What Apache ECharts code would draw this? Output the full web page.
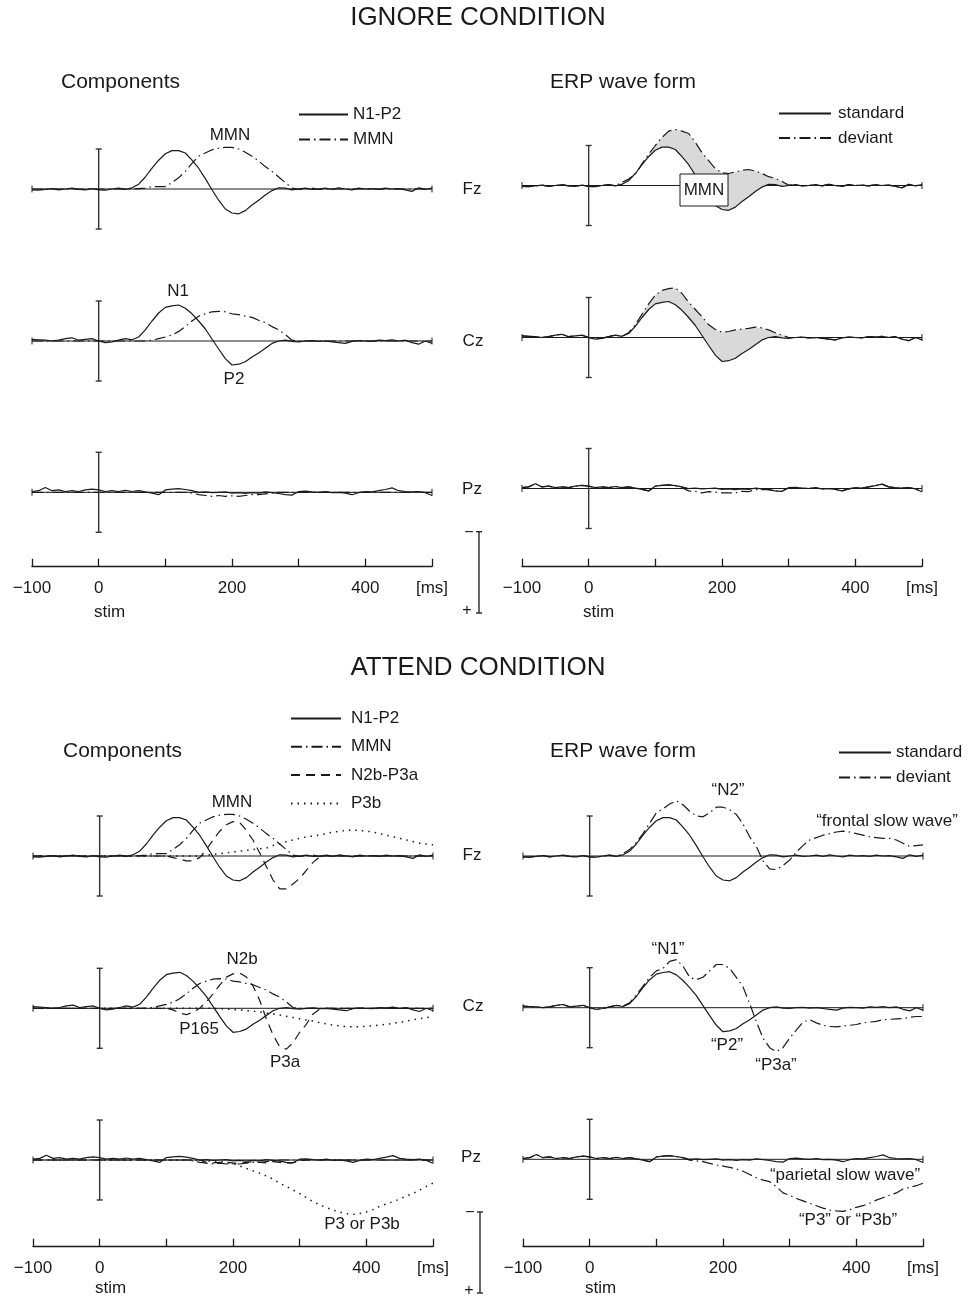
<!DOCTYPE html>
<html><head><meta charset="utf-8">
<script src="https://cdn.jsdelivr.net/npm/echarts@6/dist/echarts.min.js"></script>
<style>html,body{margin:0;padding:0;background:#fff}#chart{width:969px;height:1297px}</style>
</head><body><div id="chart"></div>
<script>
// ---------------- DATA (µV, negative = up; time in ms) ----------------
const TIME_MS = [-100,-90,-80,-70,-60,-50,-40,-30,-20,-10,0,10,20,30,40,50,60,70,80,90,100,110,120,130,140,150,160,170,180,190,200,210,220,230,240,250,260,270,280,290,300,310,320,330,340,350,360,370,380,390,400,410,420,430,440,450,460,470,480,490,500];
const TICK_VALUES = [-100,0,100,200,300,400,500];
const TICK_LABELS = ['\u2212100','0','','200','','400','[ms]'];
const BASELINE_MS = [-100, 500];
const SCALE_BAR_UV = [-5, 5];

// Fz
const FZ_N1P2 = [0.1,0.15,0.05,-0.05,0.1,0.0,-0.1,0.05,0.1,-0.05, 0.1,0.15,0.0,-0.1,0.05,
 -0.15,-0.6,-1.5,-2.6,-3.6,-4.4,-4.8,-4.8,-4.5,-3.6,-2.6,-1.3,0.1,1.4,2.5,3.0,3.1,2.7,2.0,1.4,0.75,0.2,-0.15,-0.1,
 0.1,0.0,-0.1,0.05,0.0,-0.1,0.05,-0.15,0.0,0.1,-0.1,0.0,-0.05,0.05,-0.1,0.0,-0.05,0.1,0.3,-0.15,0.05,-0.1];
const FZ_MMN = [0,0,0,0,0,0,0,0,0,0, 0,0,0,0,0,
 0,-0.05,-0.1,-0.3,-0.3,-0.3,-0.8,-1.4,-2.2,-3.2,-4.1,-4.5,-4.9,-5.1,-5.2,-5.2,-5.0,-4.6,-4.1,-3.5,-2.8,-2.2,-1.5,-0.8,-0.1,0.05,
 0,-0.1,0.05,0,0,0,0,0,0,0, 0,0,0,0,0,0,0,0,0,0];
const FZ_DEVIANT_IGNORE = [0.1,0.15,0.05,-0.05,0.1,0.0,-0.1,0.05,0.1,-0.05, 0.1,0.15,0.0,-0.1,0.05,
 -0.4,-0.8,-1.4,-2.7,-3.9,-5.0,-6.0,-6.8,-7.0,-6.8,-6.5,-5.4,-4.1,-3.1,-2.1,-1.6,-1.5,-1.7,-1.9,-2.0,-1.8,-1.5,-1.1,-0.9,-0.5,-0.05,
 -0.1,0.05,0.0,-0.1,0.05,-0.15,0.0,0.1,-0.1,0.0,-0.05,0.05,-0.1,0.0,-0.05,0.1,0.3,-0.15,0.05,-0.1];
const FZ_N2B_P3A = [0,0,0,0,0,0,0,0,0,0, 0,0,0,0,0,0,0,0,0,0,
 0.0,0.2,0.4,0.6,0.6,0.2,-0.8,-2.0,-3.1,-3.9,-4.3,-4.2,-3.2,-2.0,-0.4,1.3,3.0,4.1,4.1,3.5,2.8,1.8,0.8,0.1,0.0,
 0,0,0,0,0,0,0,0,0,0,0,0,0,0,0,0];
const FZ_P3B = [0,0,0,0,0,0,0,0,0,0, 0,0,0,0,0,0,0,0,0,0, 0,0,0,0,0,
 0.0,-0.1,-0.2,-0.3,-0.4,-0.5,-0.6,-0.7,-0.8,-0.9,-1.0,-1.3,-1.5,-1.8,-2.0,-2.2,-2.4,-2.5,-2.6,-2.8,
 -3.0,-3.1,-3.2,-3.25,-3.2,-3.1,-3.0,-2.8,-2.6,-2.4,-2.2,-2.0,-1.8,-1.6,-1.5,-1.4];
const FZ_DEVIANT_ATTEND = [0.1,0.15,0.05,-0.05,0.1,0.0,-0.1,0.05,0.1,-0.05, 0.1,0.15,0.0,-0.1,0.05,
 -0.3,-0.8,-1.7,-2.8,-4.1,
 -5.4,-5.9,-6.5,-6.9,-6.4,-5.6,-5.0,-4.9,-5.4,-6.1,
 -6.1,-5.8,-5.2,-4.0,-2.4,-1.2,0.6,1.6,1.7,1.2,
 0.5,-0.5,-1.3,-2.0,-2.3,-2.6,-2.8,-3.0,-3.1,-3.0,
 -2.8,-2.6,-2.4,-2.3,-2.2,-2.2,-2.0,-1.6,-1.2,-1.3,
 -1.4];

// Cz
const CZ_N1P2 = [-0.2,-0.15,-0.1,0.0,-0.1,-0.3,-0.4,-0.1,-0.2,-0.3, 0.0,0.2,0.1,-0.1,-0.3,
 -0.15,-0.5,-1.4,-2.5,-3.5,-4.2,-4.4,-4.5,-4.1,-3.4,-2.5,-1.5,-0.25,1.0,2.2,3.0,2.9,2.6,2.0,1.5,0.9,0.3,0.0,-0.1,
 0.05,0.1,0.0,-0.05,0.05,0.0,0.1,0.2,0.3,0.05,-0.05,0.0,0.05,-0.1,-0.05,-0.15,0.0,-0.1,0.2,0.4,0.0,0.3];
const CZ_MMN = [0,0,0,0,0,0,0,0,0,0, 0,0,0,0,0,0,0,0,
 -0.1,-0.3,-0.5,-0.75,-1.2,-1.8,-2.5,-3.1,-3.4,-3.65,-3.7,-3.65,-3.4,-3.3,-3.1,-2.95,-2.6,-2.3,-1.8,-1.4,-0.8,-0.1,0.0,
 0,0,0,0,0,0,0,0,0,0, 0,0,0,0,0,0,0,0,0,0];
const CZ_DEVIANT_IGNORE = [-0.2,-0.15,-0.1,0.0,-0.1,-0.3,-0.4,-0.1,-0.2,-0.3, 0.0,0.2,0.1,-0.1,-0.3,-0.15,
 -0.6,-1.6,-2.9,-4.2,-5.3,-5.9,-6.1,-6.2,-5.5,-4.4,-3.5,-2.6,-1.6,-1.0,-0.65,-0.75,-0.95,-1.05,-1.15,-1.3,-1.2,-0.95,-0.6,-0.3,0.0,
 0.0,-0.05,0.05,0.0,0.1,0.2,0.3,0.05,-0.05,0.0,0.05,-0.1,-0.05,-0.15,0.0,-0.1,0.2,0.4,0.0,0.3];
const CZ_N2B_P3A = [0,0,0,0,0,0,0,0,0,0, 0,0,0,0,0,0,0,0,0,0,
 0.0,0.2,0.6,0.8,0.5,0.0,-0.8,-1.8,-2.9,-3.9,-4.3,-4.4,-3.9,-2.8,-1.0,1.3,3.3,4.8,5.1,4.3,3.0,2.0,0.7,0.1,0.0,
 0,0,0,0,0,0,0,0,0,0,0,0,0,0,0,0];
const CZ_P3B = [0,0,0,0,0,0,0,0,0,0, 0,0,0,0,0,0,0,0,0,0, 0,0,0,0,0,0,0,0,
 0.05,0.1,0.15,0.2,0.3,0.35,0.45,0.6,0.7,0.85,
 1.0,1.15,1.3,1.45,1.6,1.8,1.95,2.1,2.2,2.3,
 2.3,2.3,2.25,2.2,2.1,2.0,1.9,1.75,1.6,1.45,
 1.3,1.15,1.1];
const CZ_DEVIANT_ATTEND = [-0.2,-0.15,-0.1,0.0,-0.1,-0.3,-0.4,-0.1,-0.2,-0.3, 0.0,0.2,0.1,-0.1,-0.3,
 -0.2,-0.6,-1.6,-2.7,-3.8,
 -4.6,-4.9,-5.8,-6.0,-5.2,-3.8,-3.5,-3.8,-4.6,-5.4,
 -5.4,-4.9,-3.8,-2.6,-0.5,1.75,3.8,5.0,5.5,5.0,
 3.8,2.8,1.8,1.5,1.9,2.2,2.35,2.4,2.3,2.2,
 2.1,1.9,1.8,1.7,1.5,1.45,1.4,1.35,1.2,1.1,
 1.1];

// Pz
const PZ_N1P2 = [-0.1,-0.2,-0.6,-0.2,-0.3,-0.1,-0.2,-0.1,-0.3,-0.4,
 -0.3,-0.1,-0.2,-0.1,-0.25,-0.1,-0.2,-0.05,0.1,0.3,
 -0.3,-0.4,-0.45,-0.35,-0.2,0.0,-0.05,0.05,0.0,-0.05,
 0.1,0.05,0.15,0.05,0.1,-0.05,0.05,0.15,0.3,0.35,
 -0.1,-0.15,-0.05,0.0,-0.1,0.05,0.0,0.1,0.3,0.05,
 -0.1,-0.05,-0.2,-0.35,-0.55,-0.2,-0.1,-0.05,-0.1,0.05,0.4];
const PZ_MMN = [0,0,0,0,0,0,0,0,0,0, 0,0,0,0,0,0,0,0,0,0, 0,0,0,0,
 0.1,0.3,0.4,0.5,0.4,0.5,0.45,0.5,0.4,0.3,0.3,0.2,0.1,
 0,0,0,0,0,0,0,0,0,0, 0,0,0,0,0,0,0,0,0,0, 0,0,0,0];
const PZ_DEVIANT_IGNORE = [-0.1,-0.2,-0.6,-0.2,-0.3,-0.1,-0.2,-0.1,-0.3,-0.4,
 -0.3,-0.1,-0.2,-0.1,-0.25,-0.1,-0.2,-0.05,0.1,0.3,
 -0.3,-0.4,-0.45,-0.35,
 -0.1,0.3,0.35,0.55,0.4,0.45,0.55,0.55,0.55,0.35,0.4,0.15,0.15,
 0.15,0.3,0.35,-0.1,-0.15,-0.05,0.0,-0.1,0.05,0.0,0.1,0.3,0.05,-0.1,-0.05,-0.2,-0.35,-0.55,-0.2,-0.1,-0.05,-0.1,0.05,0.4];
const PZ_N2B_P3A = [0,0,0,0,0,0,0,0,0,0, 0,0,0,0,0,0,0,0,0,0, 0,0,0,0,0,0,
 0.3,0.35,0.3,0.25,0.4,0.4,0.3,0.2,0.3,0.35,0.2,0.3,0.4,0.35,0.1,
 0,0,0,0,0,0,0,0,0,0, 0,0,0,0,0,0,0,0,0,0];
const PZ_P3B = [0,0,0,0,0,0,0,0,0,0, 0,0,0,0,0,0,0,0,0,0, 0,0,0,0,0,
 0.05,0.1,0.15,0.2,0.3,0.45,0.75,1.05,1.35,1.65,
 2.0,2.4,2.9,3.3,3.75,4.2,4.7,5.2,5.6,5.95,
 6.25,6.5,6.7,6.8,6.7,6.5,6.2,5.8,5.5,5.2,
 4.9,4.5,4.2,3.75,3.3,2.9];
const PZ_DEVIANT_ATTEND = [-0.1,-0.2,-0.6,-0.2,-0.3,-0.1,-0.2,-0.1,-0.3,-0.4,
 -0.3,-0.1,-0.2,-0.1,-0.25,-0.1,-0.2,-0.05,0.1,0.3,
 -0.3,-0.4,-0.45,-0.35,-0.2,
 0.1,0.2,0.3,0.5,0.7,0.85,1.0,1.2,1.5,1.9,
 2.3,2.6,2.8,3.4,4.2,4.5,4.9,5.2,5.5,5.8,
 6.1,6.35,6.45,6.5,6.3,6.0,5.8,5.5,5.1,4.8,
 4.5,4.2,3.7,3.5,3.3,3.0];

// standard ERP equals the N1-P2 component wave
const FZ_STANDARD = FZ_N1P2, CZ_STANDARD = CZ_N1P2, PZ_STANDARD = PZ_N1P2;

// ---------------- STYLE / LAYOUT ----------------
const FONT = '"Liberation Sans", Arial, Helvetica, sans-serif';
const INK = '#1a1a1a';
const DASH = {solid:'solid', dashdot:[11,4,1.5,4], dashed:[9,6], dotted:[1.5,5]};

const PANELS = [
 {left:32, base:189, waves:[['MMN',FZ_MMN,'dashdot'],['N1-P2',FZ_N1P2,'solid']]},
 {left:32, base:341, waves:[['MMN',CZ_MMN,'dashdot'],['N1-P2',CZ_N1P2,'solid']]},
 {left:32, base:492.3, waves:[['MMN',PZ_MMN,'dashdot'],['N1-P2',PZ_N1P2,'solid']]},
 {left:522, base:185.5, shade:[FZ_STANDARD,FZ_DEVIANT_IGNORE], waves:[['deviant',FZ_DEVIANT_IGNORE,'dashdot'],['standard',FZ_STANDARD,'solid']]},
 {left:522, base:337.5, shade:[CZ_STANDARD,CZ_DEVIANT_IGNORE], waves:[['deviant',CZ_DEVIANT_IGNORE,'dashdot'],['standard',CZ_STANDARD,'solid']]},
 {left:522, base:488.5, waves:[['deviant',PZ_DEVIANT_IGNORE,'dashdot'],['standard',PZ_STANDARD,'solid']]},
 {left:33, base:856, waves:[['P3b',FZ_P3B,'dotted'],['N2b-P3a',FZ_N2B_P3A,'dashed'],['MMN',FZ_MMN,'dashdot'],['N1-P2',FZ_N1P2,'solid']]},
 {left:33, base:1008.3, waves:[['P3b',CZ_P3B,'dotted'],['N2b-P3a',CZ_N2B_P3A,'dashed'],['MMN',CZ_MMN,'dashdot'],['N1-P2',CZ_N1P2,'solid']]},
 {left:33, base:1160, waves:[['P3b',PZ_P3B,'dotted'],['N2b-P3a',PZ_N2B_P3A,'dashed'],['MMN',PZ_MMN,'dashdot'],['N1-P2',PZ_N1P2,'solid']]},
 {left:523, base:856, waves:[['deviant',FZ_DEVIANT_ATTEND,'dashdot'],['standard',FZ_STANDARD,'solid']]},
 {left:523, base:1007.7, waves:[['deviant',CZ_DEVIANT_ATTEND,'dashdot'],['standard',CZ_STANDARD,'solid']]},
 {left:523, base:1159.3, waves:[['deviant',PZ_DEVIANT_ATTEND,'dashdot'],['standard',PZ_STANDARD,'solid']]}
];
const TIME_AXES = [{left:32,y:566.7},{left:522,y:566.7},{left:33,y:1246.7},{left:523,y:1246.7}];

function frame(gi){
  return {type:'custom', xAxisIndex:gi, yAxisIndex:gi, silent:true, animation:false, z:1,
    data:[[BASELINE_MS[0],BASELINE_MS[1],SCALE_BAR_UV[0],SCALE_BAR_UV[1]]],
    encode:{x:[0,1], y:[2,3]},
    renderItem:function(params, api){
      const a = api.coord([api.value(0),0]), b = api.coord([api.value(1),0]);
      const s0 = api.coord([0,api.value(2)]), s1 = api.coord([0,api.value(3)]);
      const st = {stroke:INK, lineWidth:1, fill:null};
      const sb = {stroke:'#333', lineWidth:1.4, fill:null};
      return {type:'group', children:[
        {type:'line', shape:{x1:a[0],y1:a[1],x2:b[0],y2:b[1]}, style:st},
        {type:'line', shape:{x1:a[0],y1:a[1]-3.5,x2:a[0],y2:a[1]+3.5}, style:st},
        {type:'line', shape:{x1:b[0],y1:b[1]-3.5,x2:b[0],y2:b[1]+3.5}, style:st},
        {type:'line', shape:{x1:s0[0],y1:s0[1],x2:s1[0],y2:s1[1]}, style:sb},
        {type:'line', shape:{x1:s0[0]-3,y1:s0[1],x2:s0[0]+3,y2:s0[1]}, style:sb},
        {type:'line', shape:{x1:s1[0]-3,y1:s1[1],x2:s1[0]+3,y2:s1[1]}, style:sb}
      ]};
    }};
}
function shade(gi, lo, hi){
  return {type:'custom', xAxisIndex:gi, yAxisIndex:gi, silent:true, animation:false, z:1,
    data:[[0,0]],
    renderItem:function(params, api){
      const pts = [];
      for (let i=0;i<TIME_MS.length;i++) pts.push(api.coord([TIME_MS[i], lo[i]]));
      for (let i=TIME_MS.length-1;i>=0;i--) pts.push(api.coord([TIME_MS[i], hi[i]]));
      return {type:'polygon', shape:{points:pts}, style:{fill:'#d9d9d9', stroke:null}};
    }};
}
function wave(name, gi, arr, kind){
  return {type:'line', name:name, xAxisIndex:gi, yAxisIndex:gi, silent:true, animation:false,
    data:TIME_MS.map((t,i)=>[t,arr[i]]), symbol:'none', showSymbol:false, smooth:false, z:3,
    itemStyle:{color:INK},
    lineStyle:{color:INK, width:kind==='dotted'?1.5:1.2, type:DASH[kind]}};
}

const grids=[], xAxes=[], yAxes=[], series=[];
PANELS.forEach((p,gi)=>{
  grids.push({left:p.left, top:p.base-64, width:400, height:128});
  xAxes.push({type:'value', gridIndex:gi, min:-100, max:500, show:false});
  yAxes.push({type:'value', gridIndex:gi, min:-8, max:8, inverse:true, show:false});
  series.push(frame(gi));
  if (p.shade) series.push(shade(gi, p.shade[0], p.shade[1]));
  p.waves.forEach(w=>series.push(wave(w[0], gi, w[1], w[2])));
});
TIME_AXES.forEach(a=>{
  const gi = grids.length;
  grids.push({left:a.left, top:a.y-20, width:400, height:20});
  xAxes.push({type:'value', gridIndex:gi, min:-100, max:500, interval:100, position:'bottom',
    axisLine:{show:true, onZero:false, lineStyle:{color:INK, width:1.3}},
    axisTick:{show:true, inside:true, length:8, lineStyle:{color:INK, width:1.3}},
    splitLine:{show:false},
    axisLabel:{show:true, margin:13, fontSize:17, fontFamily:FONT, color:INK, showMinLabel:true, showMaxLabel:true,
      formatter:function(v){const i=TICK_VALUES.indexOf(v); return i>=0?TICK_LABELS[i]:'';}}});
  yAxes.push({type:'value', gridIndex:gi, min:0, max:1, show:false});
});

function T(x,y,s,size,align){
  return {type:'text', x:x, y:y, z:100, silent:true,
    style:{text:s, font:(size||17)+'px '+FONT, fill:INK, align:align||'center', textAlign:align||'center', verticalAlign:'middle', textVerticalAlign:'middle'}};
}
function L(x1,y1,x2,y2){
  return {type:'line', z:100, silent:true, shape:{x1:x1,y1:y1,x2:x2,y2:y2}, style:{stroke:INK, lineWidth:1.3}};
}
const graphics = [
  T(478,18,'IGNORE CONDITION',26), T(478,668,'ATTEND CONDITION',26),
  T(61,82,'Components',21,'left'), T(550,82,'ERP wave form',21,'left'),
  T(63,751,'Components',21,'left'), T(550,751,'ERP wave form',21,'left'),
  T(472,189,'Fz',17), T(473,341,'Cz',17), T(472,489,'Pz',17),
  T(472,855,'Fz',17), T(473,1006,'Cz',17), T(471,1157,'Pz',17),
  T(230,135,'MMN'), T(178,291,'N1'), T(234,379,'P2'),
  {type:'rect', z:100, silent:true, shape:{x:680,y:174,width:48,height:32}, style:{fill:'#fff', stroke:INK, lineWidth:1}},
  T(704,190,'MMN'),
  T(232,802,'MMN'), T(242,959,'N2b'), T(199,1029,'P165'), T(285,1062,'P3a'), T(362,1224,'P3 or P3b'),
  T(728,790,'\u201cN2\u201d'), T(887,821,'\u201cfrontal slow wave\u201d'),
  T(668,949,'\u201cN1\u201d'), T(727,1045,'\u201cP2\u201d'), T(776,1065,'\u201cP3a\u201d'),
  T(845,1175,'\u201cparietal slow wave\u201d'), T(848,1220,'\u201cP3\u201d or \u201cP3b\u201d'),
  T(94,612,'stim',17,'left'), T(583,612,'stim',17,'left'),
  T(95,1288,'stim',17,'left'), T(585,1288,'stim',17,'left'),
  // polarity bars
  L(479,531.7,479,613), L(476,531.7,482,531.7), L(476,613,482,613),
  T(469,533,'\u2212',16), T(467,611,'+',16),
  L(480,1212,480,1293), L(477,1212,483,1212), L(477,1293,483,1293),
  T(470,1213,'\u2212',16), T(469,1291,'+',16)
];

function legend(names, left, top, w, gap, pad){
  return {data:names, left:left, top:top, orient:'vertical', itemWidth:w, itemHeight:14, itemGap:gap,
    selectedMode:false, padding:0,
    itemStyle:{opacity:0, borderWidth:0},
    lineStyle:{color:INK},
    textStyle:{fontSize:17, fontFamily:FONT, color:INK, padding:[0,0,0,pad]}};
}

const chart = echarts.init(document.getElementById('chart'), null, {renderer:'canvas'});
chart.setOption({
  animation:false, backgroundColor:'#fff',
  grid:grids, xAxis:xAxes, yAxis:yAxes, series:series, graphic:graphics,
  legend:[
    legend(['N1-P2','MMN'], 298, 106, 49, 8, 0),
    legend(['standard','deviant'], 778, 105, 52, 7.5, 2),
    legend(['N1-P2','MMN','N2b-P3a','P3b'], 290, 710, 50, 11.3, 5),
    legend(['standard','deviant'], 838, 744, 52, 8, 0)
  ]
});
</script></body></html>
